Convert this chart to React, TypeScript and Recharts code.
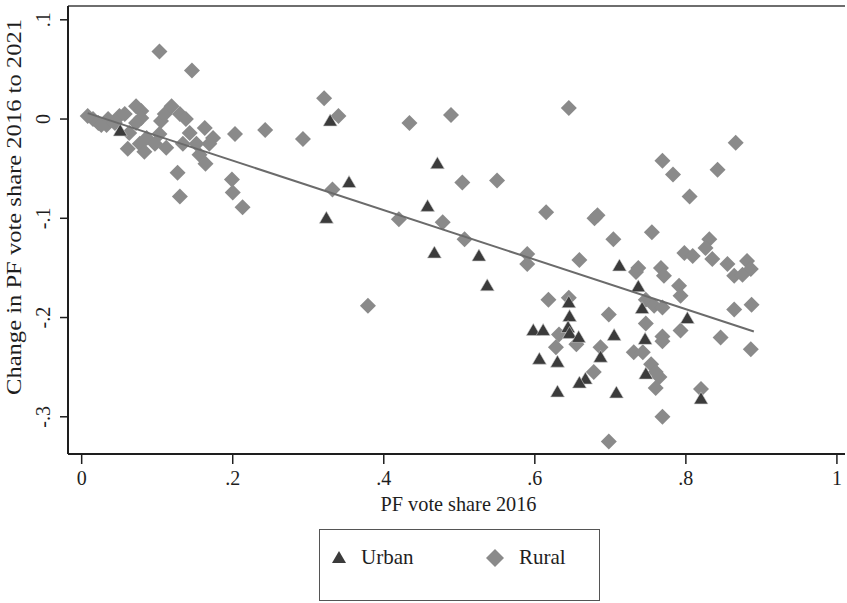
import { ScatterChart, Scatter, XAxis, YAxis, ReferenceLine } from "recharts";

// PF vote share 2016 (x) and change 2016 -> 2021 (y)
const urbanX = [
  0.051, 0.329, 0.324, 0.354, 0.471, 0.458, 0.467, 0.526, 0.537, 0.645, 0.646,
  0.644, 0.646, 0.598, 0.611, 0.712, 0.737, 0.742, 0.658, 0.705, 0.746, 0.687,
  0.606, 0.630, 0.747, 0.667, 0.659, 0.630, 0.708, 0.820, 0.802,
];
const urbanY = [
  -0.012, -0.002, -0.100, -0.064, -0.045, -0.088, -0.135, -0.138, -0.168, -0.185, -0.199,
  -0.210, -0.216, -0.213, -0.213, -0.148, -0.169, -0.191, -0.220, -0.218, -0.222, -0.240,
  -0.242, -0.245, -0.257, -0.262, -0.266, -0.275, -0.276, -0.282, -0.201,
];

const ruralX = [
  0.008, 0.015, 0.022, 0.026, 0.035, 0.033, 0.044, 0.050, 0.057, 0.072, 0.079,
  0.079, 0.072, 0.063, 0.061, 0.077, 0.086, 0.083, 0.097, 0.103, 0.105, 0.110,
  0.119, 0.130, 0.112, 0.134, 0.138, 0.143, 0.163, 0.174, 0.169, 0.152, 0.156,
  0.164, 0.103, 0.146, 0.127, 0.130, 0.199, 0.200, 0.213, 0.203, 0.243, 0.293,
  0.321, 0.340, 0.332, 0.434, 0.489, 0.645, 0.504, 0.550, 0.420, 0.478, 0.615,
  0.507, 0.590, 0.590, 0.379,
  0.618, 0.645, 0.659, 0.683, 0.679, 0.755, 0.704, 0.737, 0.734, 0.767, 0.771,
  0.798, 0.809, 0.831, 0.826, 0.835, 0.855, 0.864, 0.881, 0.886, 0.875, 0.791,
  0.793, 0.747, 0.758, 0.769, 0.698, 0.864, 0.887, 0.866, 0.769, 0.783, 0.842,
  0.805, 0.632, 0.628, 0.655, 0.747, 0.793, 0.769, 0.769, 0.687, 0.731, 0.743,
  0.754, 0.760, 0.765, 0.678, 0.760, 0.820, 0.769, 0.698, 0.846, 0.886,
];
const ruralY = [
  0.003, 0.0, -0.004, -0.006, 0.0, -0.006, -0.004, 0.003, 0.005, 0.013, 0.008,
  0.001, -0.004, -0.014, -0.030, -0.025, -0.019, -0.033, -0.025, -0.015, -0.002, 0.005,
  0.013, 0.005, -0.029, -0.025, 0.0, -0.014, -0.009, -0.019, -0.025, -0.025, -0.036,
  -0.045, 0.068, 0.049, -0.054, -0.078, -0.061, -0.074, -0.089, -0.015, -0.011, -0.020,
  0.021, 0.003, -0.071, -0.004, 0.004, 0.011, -0.064, -0.062, -0.101, -0.104, -0.094,
  -0.121, -0.136, -0.146, -0.188,
  -0.182, -0.180, -0.142, -0.097, -0.100, -0.114, -0.121, -0.150, -0.154, -0.150, -0.158,
  -0.135, -0.138, -0.121, -0.130, -0.141, -0.146, -0.158, -0.143, -0.151, -0.157, -0.168,
  -0.178, -0.182, -0.188, -0.190, -0.197, -0.192, -0.187, -0.024, -0.042, -0.056, -0.051,
  -0.078, -0.217, -0.230, -0.227, -0.206, -0.213, -0.219, -0.224, -0.230, -0.235, -0.235,
  -0.247, -0.255, -0.260, -0.255, -0.271, -0.272, -0.300, -0.325, -0.220, -0.232,
];

// fitted line end points
const fitX = [0.008, 0.89];
const fitY = [0.006, -0.214];

const xTicks = [0, 0.2, 0.4, 0.6, 0.8, 1];
const yTicks = [-0.3, -0.2, -0.1, 0, 0.1];
const xDomain = [-0.0181, 1.0107];
const yDomain = [-0.3375, 0.1139];

const urbanData = urbanX.map((x, i) => ({ x, y: urbanY[i] }));
const ruralData = ruralX.map((x, i) => ({ x, y: ruralY[i] }));
const fitData = fitX.map((x, i) => ({ x, y: fitY[i] }));

const FONT = "'Liberation Serif', 'DejaVu Serif', serif";
const RURAL = "#8a8a8a";
const URBAN = "#3b3b3b";
const AXIS = "#1e1e1e";

const fmt = (v: number) => {
  if (v === 0) return "0";
  if (v === 1) return "1";
  const s = String(Math.round(v * 10) / 10);
  return s.replace("0.", ".");
};

const Diamond = (props: any) => {
  const { cx, cy } = props;
  if (cx == null || cy == null) return <g />;
  const r = 8;
  return (
    <polygon
      points={`${cx},${cy - r} ${cx + r},${cy} ${cx},${cy + r} ${cx - r},${cy}`}
      fill={RURAL}
    />
  );
};

const Triangle = (props: any) => {
  const { cx, cy } = props;
  if (cx == null || cy == null) return <g />;
  return (
    <polygon
      points={`${cx},${cy - 7} ${cx + 7},${cy + 5} ${cx - 7},${cy + 5}`}
      fill={URBAN}
      stroke="#cfcfcf"
      strokeWidth={0.6}
    />
  );
};

const YTick = (props: any) => {
  const { x, y, payload } = props;
  return (
    <text
      x={x - 8}
      y={y}
      transform={`rotate(-90, ${x - 8}, ${y})`}
      textAnchor="middle"
      fontFamily={FONT}
      fontSize={20}
      fill={AXIS}
    >
      {fmt(payload.value)}
    </text>
  );
};

const XLabel = (props: any) => {
  const vb = props.viewBox || { x: 68, y: 454, width: 777 };
  return (
    <text
      x={vb.x + vb.width / 2 + 2}
      y={vb.y + 57}
      textAnchor="middle"
      fontFamily={FONT}
      fontSize={21}
      fill={AXIS}
      textLength={156}
      lengthAdjust="spacingAndGlyphs"
    >
      PF vote share 2016
    </text>
  );
};

const YLabel = (props: any) => {
  const vb = props.viewBox || { x: 8, y: 6, width: 60, height: 448 };
  const cx = vb.x + 13;
  const cy = vb.y + vb.height / 2 - 23;
  return (
    <text
      x={cx}
      y={cy}
      transform={`rotate(-90, ${cx}, ${cy})`}
      textAnchor="middle"
      fontFamily={FONT}
      fontSize={21}
      fill={AXIS}
      textLength={376}
      lengthAdjust="spacingAndGlyphs"
    >
      Change in PF vote share 2016 to 2021
    </text>
  );
};

export default function App() {
  return (
    <div style={{ position: "absolute", left: 0, top: 0, width: 847, height: 603, background: "#fff", fontFamily: FONT }}>
      <ScatterChart width={847} height={603} margin={{ top: 6, right: 2, left: 8, bottom: 89 }}>
        <XAxis
          type="number"
          dataKey="x"
          domain={xDomain}
          ticks={xTicks}
          allowDataOverflow
          tickFormatter={fmt}
          height={60}
          tickSize={10}
          tickMargin={7}
          tick={{ fontSize: 20, fill: AXIS, fontFamily: FONT }}
          axisLine={{ stroke: AXIS, strokeWidth: 2 }}
          tickLine={{ stroke: AXIS, strokeWidth: 1.5 }}
          label={XLabel}
        />
        <YAxis
          type="number"
          dataKey="y"
          domain={yDomain}
          ticks={yTicks}
          allowDataOverflow
          width={60}
          tickSize={8}
          tickMargin={2}
          tick={YTick}
          axisLine={{ stroke: AXIS, strokeWidth: 2 }}
          tickLine={{ stroke: AXIS, strokeWidth: 1.5 }}
          label={YLabel}
        />
        <ReferenceLine y={yDomain[1]} stroke="#6e6e6e" strokeWidth={2} />
        <Scatter name="Rural" data={ruralData} shape={Diamond} isAnimationActive={false} />
        <Scatter name="Urban" data={urbanData} shape={Triangle} isAnimationActive={false} />
        <Scatter
          name="Fit"
          data={fitData}
          line={{ stroke: "#6b6b6b", strokeWidth: 2 }}
          shape={() => <g />}
          isAnimationActive={false}
        />
      </ScatterChart>
      <div
        style={{
          position: "absolute",
          left: 319,
          top: 529,
          width: 279,
          height: 70,
          border: "1.5px solid #555",
          fontSize: 21,
          color: AXIS,
        }}
      >
        <svg width={16} height={14} style={{ position: "absolute", left: 11, top: 20 }}>
          <polygon points="8,1 15,13 1,13" fill={URBAN} />
        </svg>
        <span style={{ position: "absolute", left: 41, top: 15 }}>Urban</span>
        <svg width={18} height={18} style={{ position: "absolute", left: 166, top: 19 }}>
          <polygon points="9,0 18,9 9,18 0,9" fill={RURAL} />
        </svg>
        <span style={{ position: "absolute", left: 199, top: 15 }}>Rural</span>
      </div>
    </div>
  );
}
